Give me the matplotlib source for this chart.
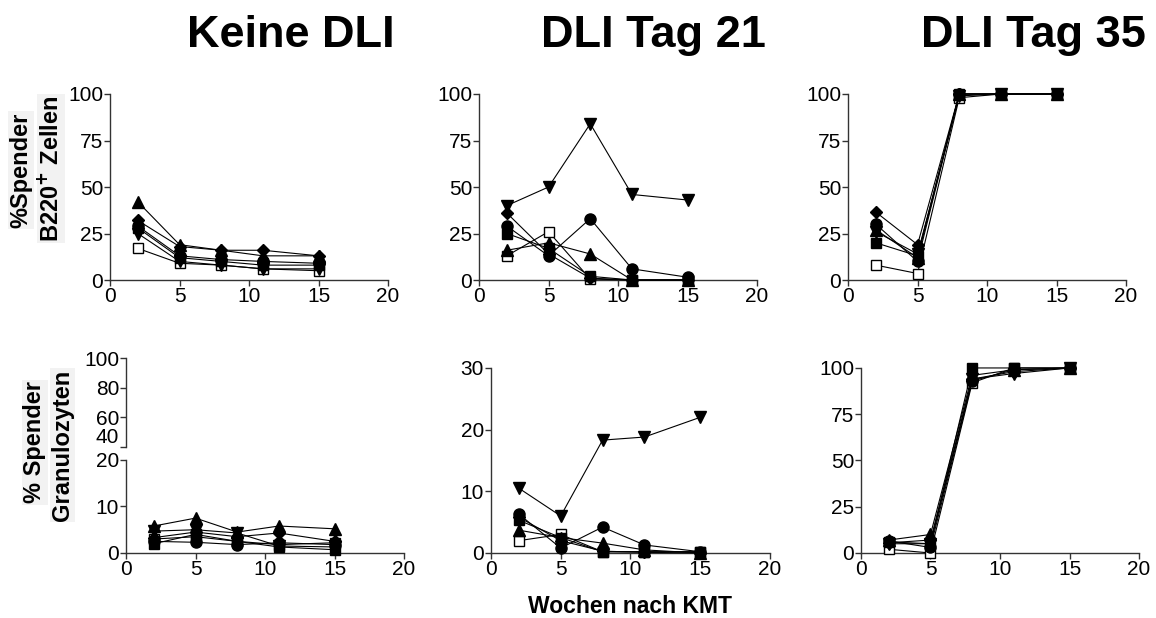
import matplotlib
matplotlib.use("Agg")
import matplotlib.pyplot as plt

plt.rcParams['font.family'] = ['Liberation Sans', 'DejaVu Sans']

# Wochen nach KMT
weeks = [2, 5, 8, 11, 15]

# one list per mouse, order: triangle up, triangle down, diamond, circle, square, open square
b220_keine = [
    [42, 19, 16, 13, 13],
    [25, 10, 8, 6, 6],
    [32, 18, 16, 16, 13],
    [29, 13, 11, 10, 9],
    [28, 12, 10, 8, 8],
    [17, 9, 8, 6, 5],
]
b220_tag21 = [
    [16, 20, 14, 0, 0],
    [40, 50, 84, 46, 43],
    [36, 14, 1, 0, 0],
    [29, 13, 33, 6, 1.5],
    [25, 17, 2, 0, 0],
    [13, 26, 0.5, 0, 0],
]
b220_tag35 = [
    [27, 12, 100, 100, 100],
    [26, 14, 99, 100, 100],
    [36.5, 19, 100, 100, 100],
    [30, 10, 100, 100, 100],
    [20, 13, 100, 100, 100],
    [8, 3.5, 98, 100, 100],
]
gran_keine = [
    [5.8, 7.5, 4.5, 5.8, 5.2],
    [4.7, 5, 4.3, 1.5, 1.3],
    [3.3, 4.5, 3.5, 4.3, 2.5],
    [2.5, 2.3, 1.8, 2.2, 1.8],
    [2, 4, 2.5, 1.3, 0.7],
    [3, 3.5, 2.5, 1.8, 2.2],
]
gran_tag21 = [
    [3.7, 2.5, 1.6, 0.5, 0],
    [10.5, 6, 18.3, 18.8, 22],
    [5.8, 2, 0.3, 0.1, 0],
    [6.3, 0.8, 4.2, 1.3, 0.2],
    [5.3, 2.5, 0.2, 0.2, 0.2],
    [2, 3, 0.2, 0.2, 0.2],
]
gran_tag35 = [
    [7, 10, 96, 99, 100],
    [5, 5, 94, 97, 100],
    [5.5, 7, 94, 98, 100],
    [6.5, 3, 93, 99, 100],
    [6, 5, 100, 100, 100],
    [2, 0, 92, 100, 100],
]

titles = ["Keine DLI", "DLI Tag 21", "DLI Tag 35"]

markers = ['^', 'v', 'D', 'o', 's', 's']
sizes = [8, 8, 6, 8, 7.5, 7.5]
faces = ['black'] * 5 + ['white']
zorders = [4, 4, 4, 4, 5, 3]

TICK_FS = 15
AXCOL = '#333333'


def style_axis(ax, yticks, ylim, xaxis=True):
    ax.set_xlim(0, 20)
    ax.set_ylim(*ylim)
    ax.set_yticks(yticks)
    for s in ['top', 'right']:
        ax.spines[s].set_visible(False)
    for s in ['left', 'bottom']:
        ax.spines[s].set_color(AXCOL)
        ax.spines[s].set_linewidth(1.0)
    ax.tick_params(direction='out', length=4, width=1.0, color=AXCOL,
                   labelsize=TICK_FS, pad=1)
    if xaxis:
        ax.set_xticks([0, 5, 10, 15, 20])
    else:
        ax.spines['bottom'].set_visible(False)
        ax.set_xticks([])


def draw_series(ax, data):
    for i, vals in enumerate(data):
        ax.plot(weeks, vals, color='black', lw=0.8, marker=markers[i],
                ms=sizes[i], mfc=faces[i], mec='black', mew=1.0,
                clip_on=False, zorder=zorders[i])


fig = plt.figure(figsize=(11.56, 6.18), dpi=100)

# top row: B220+ cells
top_left = [0.0952, 0.4144, 0.7336]
for left, data in zip(top_left, [b220_keine, b220_tag21, b220_tag35]):
    ax = fig.add_axes([left, 0.5469, 0.2405, 0.3010])
    draw_series(ax, data)
    style_axis(ax, [0, 25, 50, 75, 100], (0, 100))

# bottom left: broken y axis, all points sit in the lower part
ax_lo = fig.add_axes([0.1090, 0.1052, 0.2405, 0.1505])
ax_hi = fig.add_axes([0.1090, 0.2767, 0.2405, 0.1440])
draw_series(ax_lo, gran_keine)
style_axis(ax_lo, [0, 10, 20], (0, 20))
style_axis(ax_hi, [40, 60, 80, 100], (40, 100), xaxis=False)
ax_hi.patch.set_alpha(0)
ax_lo.patch.set_alpha(0)
# lift the "40" a little so it does not sit on the "20"
ax_hi.get_yticklabels()[0].set_va('bottom')

# bottom middle and right
ax = fig.add_axes([0.4247, 0.1052, 0.2414, 0.2994])
draw_series(ax, gran_tag21)
style_axis(ax, [0, 10, 20, 30], (0, 30))

ax = fig.add_axes([0.7448, 0.1052, 0.2405, 0.2994])
draw_series(ax, gran_tag35)
style_axis(ax, [0, 25, 50, 75, 100], (0, 100))

# column titles
for x, t in zip([0.252, 0.565, 0.894], titles):
    fig.text(x, 0.924, t, ha='center', va='baseline', fontsize=32.5,
             fontweight='bold')

# y labels, one box per line
box = dict(facecolor='#f2f2f2', edgecolor='none', pad=1)
fig.text(0.018, 0.725, "%Spender", rotation=90, ha='center', va='center',
         fontsize=17, fontweight='bold', bbox=box)
fig.text(0.044, 0.727, "B220$^{\\mathbf{+}}$ Zellen", rotation=90, ha='center',
         va='center', fontsize=17, fontweight='bold', bbox=box)
fig.text(0.030, 0.284, "% Spender", rotation=90, ha='center', va='center',
         fontsize=17, fontweight='bold', bbox=box)
fig.text(0.054, 0.280, "Granulozyten", rotation=90, ha='center', va='center',
         fontsize=17, fontweight='bold', bbox=box)

fig.text(0.545, 0.018, "Wochen nach KMT", ha='center', va='center',
         fontsize=16.5, fontweight='bold')

fig.savefig("out.png", dpi=100)
